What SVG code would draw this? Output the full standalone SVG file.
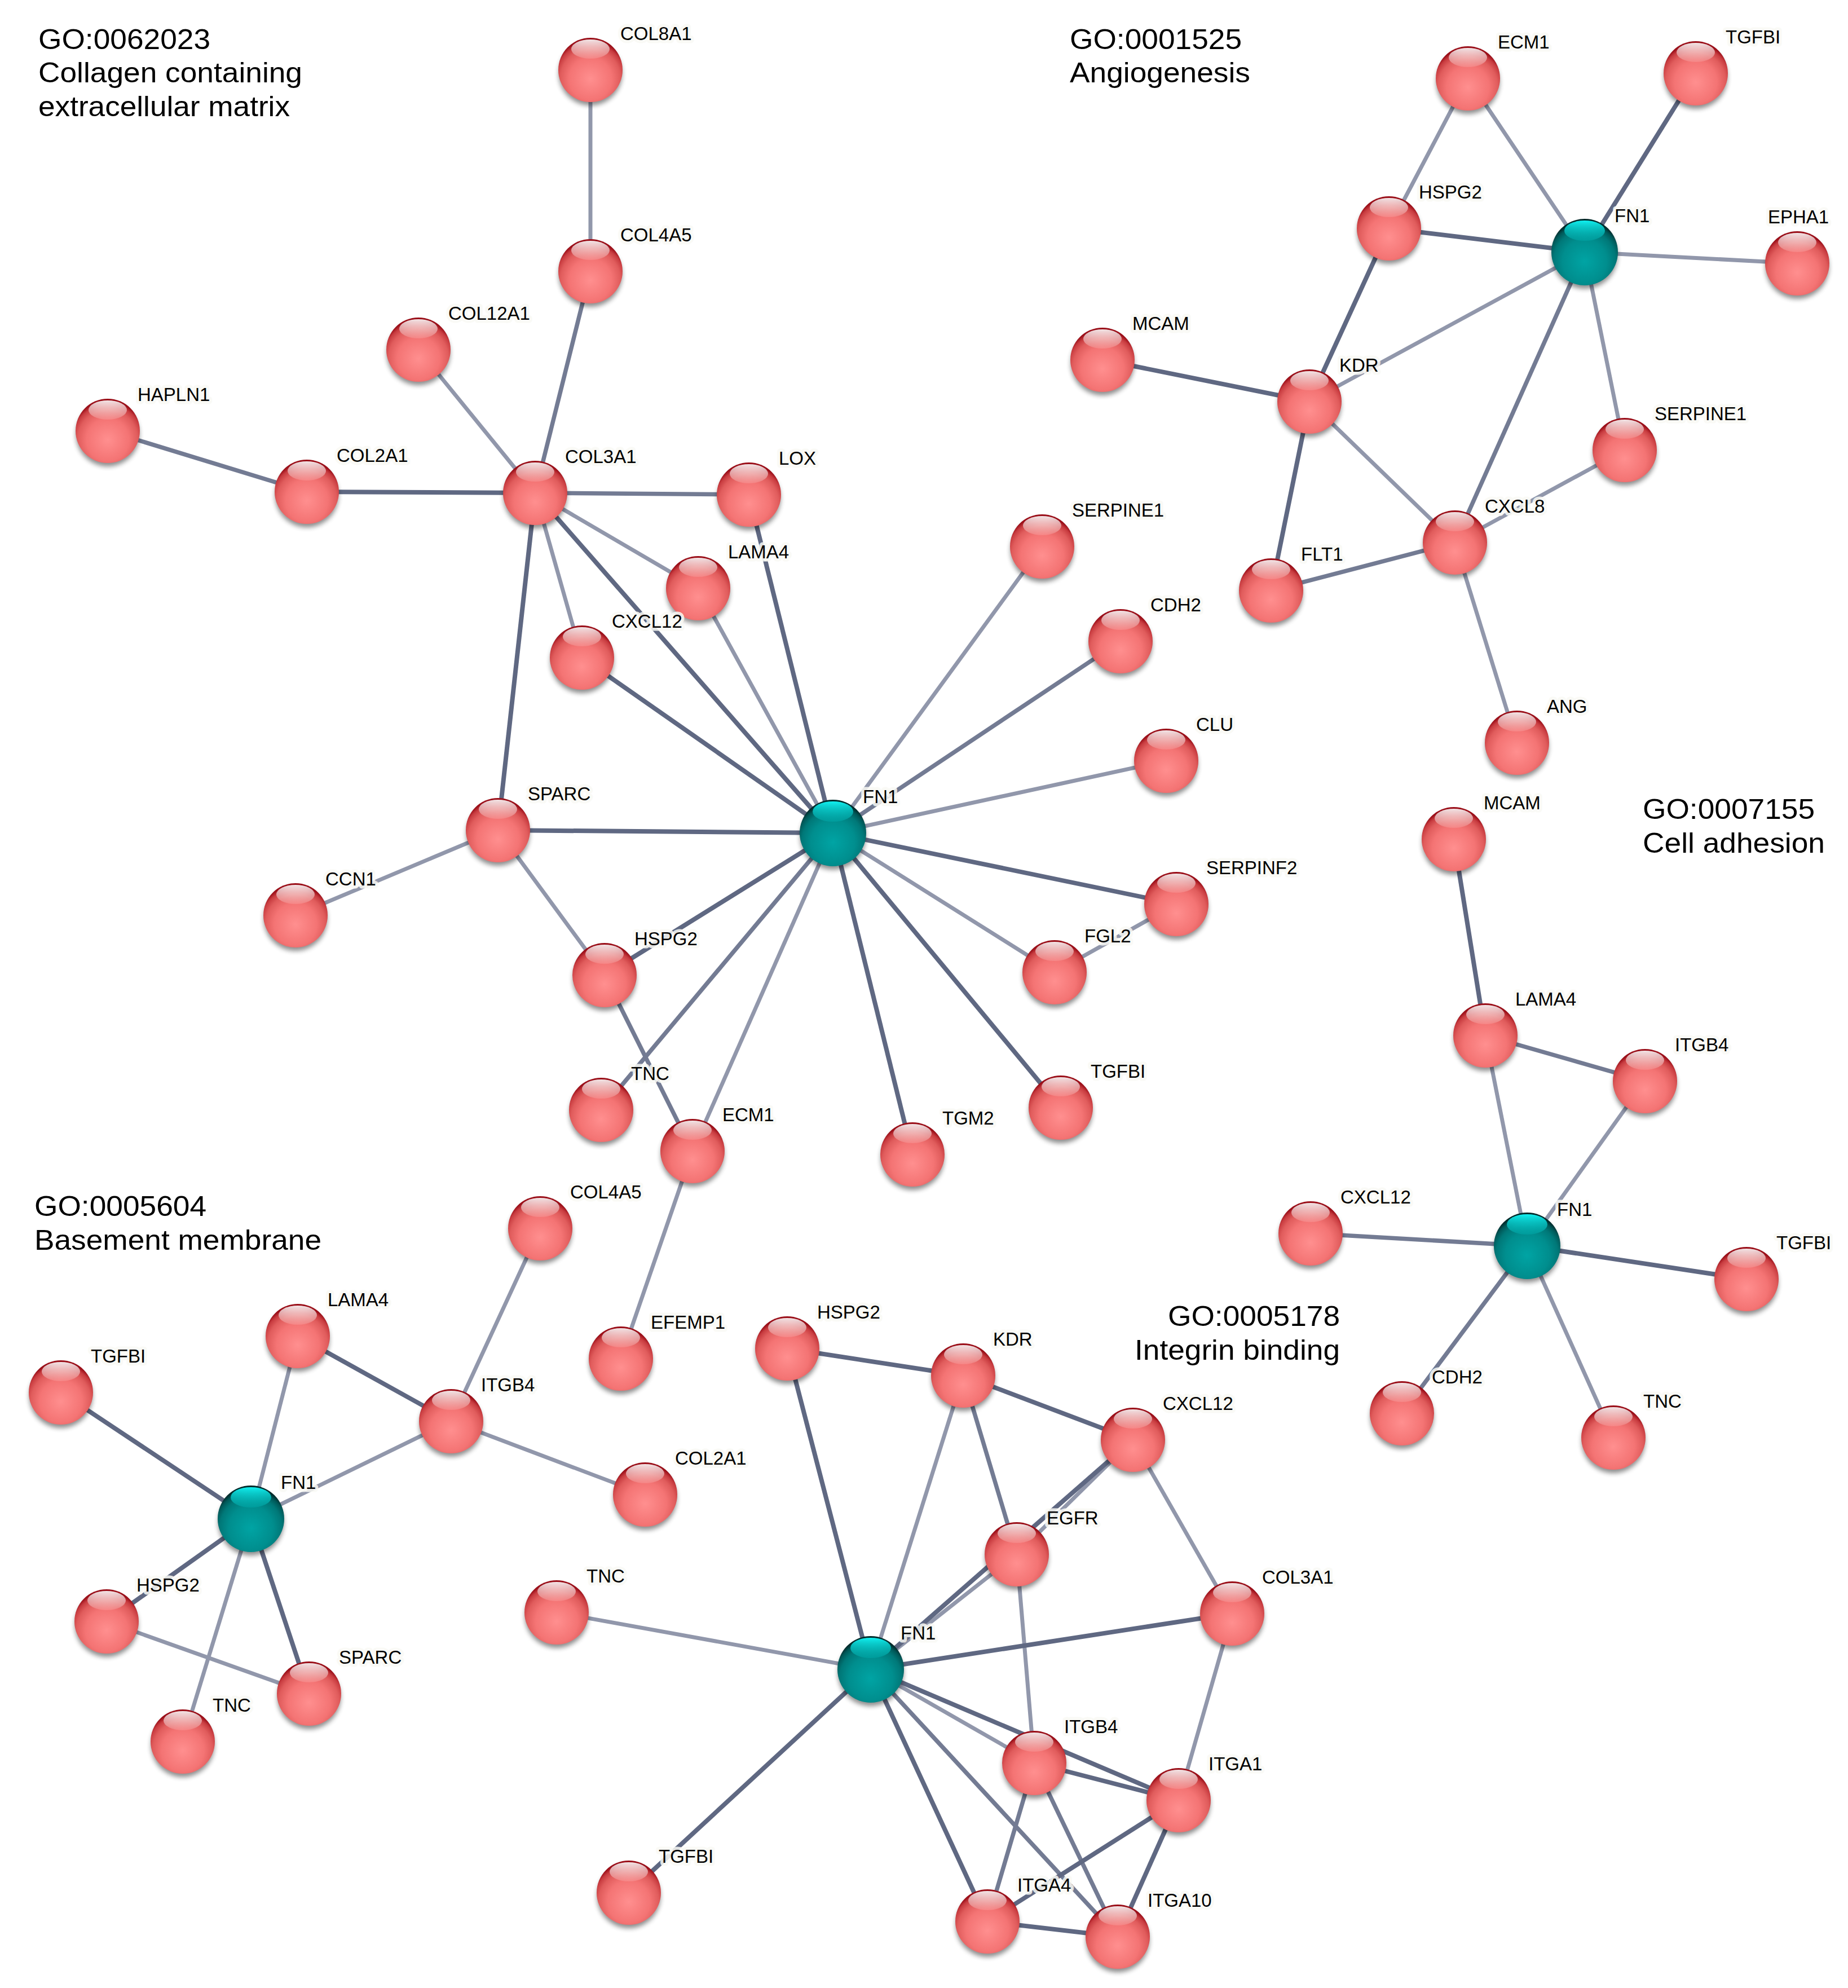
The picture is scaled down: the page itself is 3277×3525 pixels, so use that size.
<svg xmlns="http://www.w3.org/2000/svg" xmlns:xlink="http://www.w3.org/1999/xlink" width="3277" height="3525" viewBox="0 0 3277 3525">
<style>
.d{stroke:#5f6882;stroke-width:8;fill:none}
.m{stroke:#737b93;stroke-width:7.5;fill:none}
.l{stroke:#9197ab;stroke-width:7;fill:none}
.lb{font-family:"Liberation Sans",Arial,sans-serif;font-size:33px;fill:#000;stroke:#fafaf5;stroke-opacity:.85;stroke-width:11;stroke-linejoin:round;paint-order:stroke}
.t{font-family:"Liberation Sans",Arial,sans-serif;font-size:50px;fill:#000}
</style>
<defs>
<filter id="sh" x="-50%" y="-50%" width="200%" height="200%"><feGaussianBlur stdDeviation="4"/></filter>
<radialGradient id="gR" cx="0.5" cy="0.64" r="0.6">
<stop offset="0" stop-color="#ff8f8f"/><stop offset="0.55" stop-color="#f47474"/><stop offset="0.78" stop-color="#e05c5c"/><stop offset="0.91" stop-color="#c83c40"/><stop offset="1" stop-color="#9a0e18"/>
</radialGradient>
<radialGradient id="gT" cx="0.5" cy="0.64" r="0.6">
<stop offset="0" stop-color="#00a4a4"/><stop offset="0.55" stop-color="#008e8e"/><stop offset="0.78" stop-color="#007878"/><stop offset="0.91" stop-color="#005858"/><stop offset="1" stop-color="#002a2a"/>
</radialGradient>
<linearGradient id="hR" x1="0" y1="0" x2="0" y2="1">
<stop offset="0" stop-color="#fff" stop-opacity="0.9"/><stop offset="1" stop-color="#fff" stop-opacity="0.12"/>
</linearGradient>
<linearGradient id="hT" x1="0" y1="0" x2="0" y2="1">
<stop offset="0" stop-color="#10f2f2"/><stop offset="1" stop-color="#00a8a8" stop-opacity="0.5"/>
</linearGradient>
<g id="rb"><circle cx="0" cy="7" r="56" fill="#000" opacity=".45" filter="url(#sh)"/><circle r="57" fill="url(#gR)"/><ellipse cy="-37" rx="34" ry="17" fill="url(#hR)"/></g>
<g id="tb"><circle cx="0" cy="7" r="58" fill="#000" opacity=".45" filter="url(#sh)"/><circle r="59" fill="url(#gT)"/><ellipse cy="-38" rx="36" ry="18" fill="url(#hT)"/></g>
</defs>
<rect width="3277" height="3525" fill="#fff"/>

<g id="titles">
<text class="t" x="68" y="87" textLength="305" lengthAdjust="spacingAndGlyphs">GO:0062023</text>
<text class="t" x="68" y="146" textLength="468" lengthAdjust="spacingAndGlyphs">Collagen containing</text>
<text class="t" x="68" y="206" textLength="446" lengthAdjust="spacingAndGlyphs">extracellular matrix</text>
<text class="t" x="1897" y="87" textLength="305" lengthAdjust="spacingAndGlyphs">GO:0001525</text>
<text class="t" x="1897" y="146" textLength="320" lengthAdjust="spacingAndGlyphs">Angiogenesis</text>
<text class="t" x="2913" y="1452" textLength="305" lengthAdjust="spacingAndGlyphs">GO:0007155</text>
<text class="t" x="2913" y="1512" textLength="323" lengthAdjust="spacingAndGlyphs">Cell adhesion</text>
<text class="t" x="61" y="2156" textLength="305" lengthAdjust="spacingAndGlyphs">GO:0005604</text>
<text class="t" x="61" y="2216" textLength="509" lengthAdjust="spacingAndGlyphs">Basement membrane</text>
<text class="t" x="2071" y="2351" textLength="305" lengthAdjust="spacingAndGlyphs">GO:0005178</text>
<text class="t" x="2012" y="2411" textLength="364" lengthAdjust="spacingAndGlyphs">Integrin binding</text>
</g>

<g id="connectors">
<!-- GO:0062023 -->
<line class="l" x1="1047" y1="124" x2="1047" y2="481"/>
<line class="m" x1="1047" y1="481" x2="949" y2="874"/>
<line class="l" x1="742" y1="620" x2="949" y2="874"/>
<line class="m" x1="191" y1="764" x2="544" y2="872"/>
<line class="d" x1="544" y1="872" x2="949" y2="874"/>
<line class="m" x1="949" y1="874" x2="1328" y2="877"/>
<line class="l" x1="949" y1="874" x2="1238" y2="1043"/>
<line class="l" x1="949" y1="874" x2="1032" y2="1166"/>
<line class="d" x1="949" y1="874" x2="1477" y2="1477"/>
<line class="d" x1="949" y1="874" x2="883" y2="1472"/>
<line class="d" x1="1328" y1="877" x2="1477" y2="1477"/>
<line class="l" x1="1238" y1="1043" x2="1477" y2="1477"/>
<line class="d" x1="1032" y1="1166" x2="1477" y2="1477"/>
<line class="l" x1="1848" y1="969" x2="1477" y2="1477"/>
<line class="m" x1="1987" y1="1137" x2="1477" y2="1477"/>
<line class="l" x1="2068" y1="1349" x2="1477" y2="1477"/>
<line class="d" x1="883" y1="1472" x2="1477" y2="1477"/>
<line class="l" x1="883" y1="1472" x2="524" y2="1623"/>
<line class="l" x1="883" y1="1472" x2="1072" y2="1729"/>
<line class="d" x1="2086" y1="1603" x2="1477" y2="1477"/>
<line class="l" x1="1870" y1="1724" x2="1477" y2="1477"/>
<line class="l" x1="1870" y1="1724" x2="2086" y2="1603"/>
<line class="d" x1="1072" y1="1729" x2="1477" y2="1477"/>
<line class="m" x1="1072" y1="1729" x2="1228" y2="2041"/>
<line class="m" x1="1066" y1="1968" x2="1477" y2="1477"/>
<line class="l" x1="1228" y1="2041" x2="1477" y2="1477"/>
<line class="l" x1="1228" y1="2041" x2="1101" y2="2409"/>
<line class="d" x1="1618" y1="2047" x2="1477" y2="1477"/>
<line class="d" x1="1881" y1="1964" x2="1477" y2="1477"/>
<!-- GO:0001525 -->
<line class="l" x1="2603" y1="139" x2="2463" y2="405"/>
<line class="l" x1="2603" y1="139" x2="2810" y2="447"/>
<line class="d" x1="3007" y1="130" x2="2810" y2="447"/>
<line class="d" x1="2463" y1="405" x2="2810" y2="447"/>
<line class="d" x1="2463" y1="405" x2="2322" y2="712"/>
<line class="l" x1="2810" y1="447" x2="3187" y2="467"/>
<line class="l" x1="2810" y1="447" x2="2322" y2="712"/>
<line class="l" x1="2810" y1="447" x2="2881" y2="798"/>
<line class="m" x1="2810" y1="447" x2="2580" y2="962"/>
<line class="d" x1="1955" y1="638" x2="2322" y2="712"/>
<line class="d" x1="2322" y1="712" x2="2254" y2="1047"/>
<line class="l" x1="2322" y1="712" x2="2580" y2="962"/>
<line class="l" x1="2881" y1="798" x2="2580" y2="962"/>
<line class="m" x1="2254" y1="1047" x2="2580" y2="962"/>
<line class="l" x1="2580" y1="962" x2="2690" y2="1317"/>
<!-- GO:0007155 -->
<line class="d" x1="2578" y1="1488" x2="2634" y2="1836"/>
<line class="m" x1="2634" y1="1836" x2="2917" y2="1917"/>
<line class="l" x1="2634" y1="1836" x2="2708" y2="2209"/>
<line class="l" x1="2917" y1="1917" x2="2708" y2="2209"/>
<line class="m" x1="2324" y1="2187" x2="2708" y2="2209"/>
<line class="d" x1="2708" y1="2209" x2="3097" y2="2268"/>
<line class="m" x1="2708" y1="2209" x2="2486" y2="2506"/>
<line class="l" x1="2708" y1="2209" x2="2861" y2="2549"/>
<!-- GO:0005604 -->
<line class="l" x1="958" y1="2178" x2="800" y2="2520"/>
<line class="d" x1="528" y1="2369" x2="800" y2="2520"/>
<line class="l" x1="528" y1="2369" x2="445" y2="2693"/>
<line class="d" x1="108" y1="2469" x2="445" y2="2693"/>
<line class="l" x1="800" y1="2520" x2="445" y2="2693"/>
<line class="l" x1="800" y1="2520" x2="1144" y2="2650"/>
<line class="d" x1="445" y1="2693" x2="189" y2="2875"/>
<line class="d" x1="445" y1="2693" x2="548" y2="3003"/>
<line class="l" x1="445" y1="2693" x2="324" y2="3088"/>
<line class="l" x1="189" y1="2875" x2="548" y2="3003"/>
<!-- GO:0005178 -->
<line class="d" x1="1396" y1="2391" x2="1708" y2="2439"/>
<line class="d" x1="1396" y1="2391" x2="1544" y2="2960"/>
<line class="d" x1="1708" y1="2439" x2="2009" y2="2553"/>
<line class="m" x1="1708" y1="2439" x2="1803" y2="2756"/>
<line class="l" x1="1708" y1="2439" x2="1544" y2="2960"/>
<line class="l" x1="2009" y1="2553" x2="1803" y2="2756"/>
<line class="l" x1="1803" y1="2756" x2="1544" y2="2960"/>
<line class="d" x1="2009" y1="2553" x2="1544" y2="2960"/>
<line class="l" x1="2009" y1="2553" x2="2185" y2="2861"/>
<line class="l" x1="1803" y1="2756" x2="1834" y2="3126"/>
<line class="l" x1="987" y1="2859" x2="1544" y2="2960"/>
<line class="d" x1="1544" y1="2960" x2="2185" y2="2861"/>
<line class="l" x1="2185" y1="2861" x2="2090" y2="3192"/>
<line class="l" x1="1544" y1="2960" x2="1834" y2="3126"/>
<line class="d" x1="1544" y1="2960" x2="2090" y2="3192"/>
<line class="d" x1="1544" y1="2960" x2="1751" y2="3407"/>
<line class="m" x1="1544" y1="2960" x2="1982" y2="3434"/>
<line class="d" x1="1115" y1="3356" x2="1544" y2="2960"/>
<line class="d" x1="1834" y1="3126" x2="2090" y2="3192"/>
<line class="m" x1="1834" y1="3126" x2="1751" y2="3407"/>
<line class="m" x1="1834" y1="3126" x2="1982" y2="3434"/>
<line class="d" x1="2090" y1="3192" x2="1751" y2="3407"/>
<line class="d" x1="2090" y1="3192" x2="1982" y2="3434"/>
<line class="d" x1="1751" y1="3407" x2="1982" y2="3434"/>
</g>

<g id="net-GO0062023">
<g id="a-COL8A1"><use href="#rb" x="1047" y="124"/><text class="lb" x="1100" y="71">COL8A1</text></g>
<g id="a-COL4A5"><use href="#rb" x="1047" y="481"/><text class="lb" x="1100" y="428">COL4A5</text></g>
<g id="a-COL12A1"><use href="#rb" x="742" y="620"/><text class="lb" x="795" y="567">COL12A1</text></g>
<g id="a-HAPLN1"><use href="#rb" x="191" y="764"/><text class="lb" x="244" y="711">HAPLN1</text></g>
<g id="a-COL2A1"><use href="#rb" x="544" y="872"/><text class="lb" x="597" y="819">COL2A1</text></g>
<g id="a-COL3A1"><use href="#rb" x="949" y="874"/><text class="lb" x="1002" y="821">COL3A1</text></g>
<g id="a-LOX"><use href="#rb" x="1328" y="877"/><text class="lb" x="1381" y="824">LOX</text></g>
<g id="a-LAMA4"><use href="#rb" x="1238" y="1043"/><text class="lb" x="1291" y="990">LAMA4</text></g>
<g id="a-CXCL12"><use href="#rb" x="1032" y="1166"/><text class="lb" x="1085" y="1113">CXCL12</text></g>
<g id="a-SERPINE1"><use href="#rb" x="1848" y="969"/><text class="lb" x="1901" y="916">SERPINE1</text></g>
<g id="a-CDH2"><use href="#rb" x="1987" y="1137"/><text class="lb" x="2040" y="1084">CDH2</text></g>
<g id="a-CLU"><use href="#rb" x="2068" y="1349"/><text class="lb" x="2121" y="1296">CLU</text></g>
<g id="a-SPARC"><use href="#rb" x="883" y="1472"/><text class="lb" x="936" y="1419">SPARC</text></g>
<g id="a-CCN1"><use href="#rb" x="524" y="1623"/><text class="lb" x="577" y="1570">CCN1</text></g>
<g id="a-SERPINF2"><use href="#rb" x="2086" y="1603"/><text class="lb" x="2139" y="1550">SERPINF2</text></g>
<g id="a-FGL2"><use href="#rb" x="1870" y="1724"/><text class="lb" x="1923" y="1671">FGL2</text></g>
<g id="a-HSPG2"><use href="#rb" x="1072" y="1729"/><text class="lb" x="1125" y="1676">HSPG2</text></g>
<g id="a-TNC"><use href="#rb" x="1066" y="1968"/><text class="lb" x="1119" y="1915">TNC</text></g>
<g id="a-ECM1"><use href="#rb" x="1228" y="2041"/><text class="lb" x="1281" y="1988">ECM1</text></g>
<g id="a-TGM2"><use href="#rb" x="1618" y="2047"/><text class="lb" x="1671" y="1994">TGM2</text></g>
<g id="a-TGFBI"><use href="#rb" x="1881" y="1964"/><text class="lb" x="1934" y="1911">TGFBI</text></g>
<g id="a-EFEMP1"><use href="#rb" x="1101" y="2409"/><text class="lb" x="1154" y="2356">EFEMP1</text></g>
<g id="a-FN1"><use href="#tb" x="1477" y="1477"/><text class="lb" x="1530" y="1424">FN1</text></g>
</g>

<g id="net-GO0001525">
<g id="b-ECM1"><use href="#rb" x="2603" y="139"/><text class="lb" x="2656" y="86">ECM1</text></g>
<g id="b-TGFBI"><use href="#rb" x="3007" y="130"/><text class="lb" x="3060" y="77">TGFBI</text></g>
<g id="b-HSPG2"><use href="#rb" x="2463" y="405"/><text class="lb" x="2516" y="352">HSPG2</text></g>
<g id="b-EPHA1"><use href="#rb" x="3187" y="467"/><text class="lb" x="3135" y="396">EPHA1</text></g>
<g id="b-MCAM"><use href="#rb" x="1955" y="638"/><text class="lb" x="2008" y="585">MCAM</text></g>
<g id="b-KDR"><use href="#rb" x="2322" y="712"/><text class="lb" x="2375" y="659">KDR</text></g>
<g id="b-SERPINE1"><use href="#rb" x="2881" y="798"/><text class="lb" x="2934" y="745">SERPINE1</text></g>
<g id="b-CXCL8"><use href="#rb" x="2580" y="962"/><text class="lb" x="2633" y="909">CXCL8</text></g>
<g id="b-FLT1"><use href="#rb" x="2254" y="1047"/><text class="lb" x="2307" y="994">FLT1</text></g>
<g id="b-ANG"><use href="#rb" x="2690" y="1317"/><text class="lb" x="2743" y="1264">ANG</text></g>
<g id="b-FN1"><use href="#tb" x="2810" y="447"/><text class="lb" x="2863" y="394">FN1</text></g>
</g>

<g id="net-GO0007155">
<g id="c-MCAM"><use href="#rb" x="2578" y="1488"/><text class="lb" x="2631" y="1435">MCAM</text></g>
<g id="c-LAMA4"><use href="#rb" x="2634" y="1836"/><text class="lb" x="2687" y="1783">LAMA4</text></g>
<g id="c-ITGB4"><use href="#rb" x="2917" y="1917"/><text class="lb" x="2970" y="1864">ITGB4</text></g>
<g id="c-CXCL12"><use href="#rb" x="2324" y="2187"/><text class="lb" x="2377" y="2134">CXCL12</text></g>
<g id="c-TGFBI"><use href="#rb" x="3097" y="2268"/><text class="lb" x="3150" y="2215">TGFBI</text></g>
<g id="c-CDH2"><use href="#rb" x="2486" y="2506"/><text class="lb" x="2539" y="2453">CDH2</text></g>
<g id="c-TNC"><use href="#rb" x="2861" y="2549"/><text class="lb" x="2914" y="2496">TNC</text></g>
<g id="c-FN1"><use href="#tb" x="2708" y="2209"/><text class="lb" x="2761" y="2156">FN1</text></g>
</g>

<g id="net-GO0005604">
<g id="d-COL4A5"><use href="#rb" x="958" y="2178"/><text class="lb" x="1011" y="2125">COL4A5</text></g>
<g id="d-LAMA4"><use href="#rb" x="528" y="2369"/><text class="lb" x="581" y="2316">LAMA4</text></g>
<g id="d-TGFBI"><use href="#rb" x="108" y="2469"/><text class="lb" x="161" y="2416">TGFBI</text></g>
<g id="d-ITGB4"><use href="#rb" x="800" y="2520"/><text class="lb" x="853" y="2467">ITGB4</text></g>
<g id="d-COL2A1"><use href="#rb" x="1144" y="2650"/><text class="lb" x="1197" y="2597">COL2A1</text></g>
<g id="d-HSPG2"><use href="#rb" x="189" y="2875"/><text class="lb" x="242" y="2822">HSPG2</text></g>
<g id="d-SPARC"><use href="#rb" x="548" y="3003"/><text class="lb" x="601" y="2950">SPARC</text></g>
<g id="d-TNC"><use href="#rb" x="324" y="3088"/><text class="lb" x="377" y="3035">TNC</text></g>
<g id="d-FN1"><use href="#tb" x="445" y="2693"/><text class="lb" x="498" y="2640">FN1</text></g>
</g>

<g id="net-GO0005178">
<g id="e-HSPG2"><use href="#rb" x="1396" y="2391"/><text class="lb" x="1449" y="2338">HSPG2</text></g>
<g id="e-KDR"><use href="#rb" x="1708" y="2439"/><text class="lb" x="1761" y="2386">KDR</text></g>
<g id="e-CXCL12"><use href="#rb" x="2009" y="2553"/><text class="lb" x="2062" y="2500">CXCL12</text></g>
<g id="e-EGFR"><use href="#rb" x="1803" y="2756"/><text class="lb" x="1856" y="2703">EGFR</text></g>
<g id="e-TNC"><use href="#rb" x="987" y="2859"/><text class="lb" x="1040" y="2806">TNC</text></g>
<g id="e-COL3A1"><use href="#rb" x="2185" y="2861"/><text class="lb" x="2238" y="2808">COL3A1</text></g>
<g id="e-ITGB4"><use href="#rb" x="1834" y="3126"/><text class="lb" x="1887" y="3073">ITGB4</text></g>
<g id="e-ITGA1"><use href="#rb" x="2090" y="3192"/><text class="lb" x="2143" y="3139">ITGA1</text></g>
<g id="e-TGFBI"><use href="#rb" x="1115" y="3356"/><text class="lb" x="1168" y="3303">TGFBI</text></g>
<g id="e-ITGA4"><use href="#rb" x="1751" y="3407"/><text class="lb" x="1804" y="3354">ITGA4</text></g>
<g id="e-ITGA10"><use href="#rb" x="1982" y="3434"/><text class="lb" x="2035" y="3381">ITGA10</text></g>
<g id="e-FN1"><use href="#tb" x="1544" y="2960"/><text class="lb" x="1597" y="2907">FN1</text></g>
</g>
</svg>
